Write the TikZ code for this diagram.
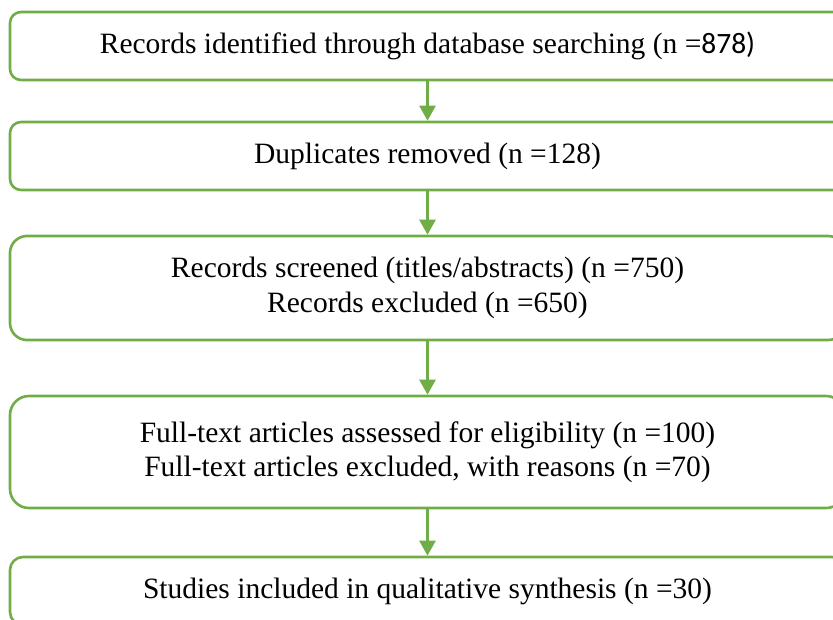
\documentclass[tikz,border=0pt]{standalone}
\usepackage{fontspec}
\setmainfont{Liberation Serif}
\newfontfamily\numfont{Carlito}
\usetikzlibrary{arrows.meta}
\definecolor{boxgreen}{HTML}{70AD47}
\begin{document}
\begin{tikzpicture}[x=1pt,y=-1pt,
  stage/.style={draw=boxgreen, line width=2.6pt, minimum width=835pt,
    inner sep=0pt, align=center, font=\fontsize{29.5}{34.5}\selectfont},
  flow/.style={draw=boxgreen, line width=2.6pt,
    -{Triangle[width=16pt,length=15pt]}}]
\useasboundingbox (0,0) rectangle (833,619);
\clip (0,0) rectangle (833,619);
% flow stages
\node[stage, rounded corners=11pt, minimum height=68pt] (ident) at (427.5,46)
  {Records identified through database searching (n =\numfont 878)};
\node[stage, rounded corners=11pt, minimum height=68pt] (dup) at (427.5,156)
  {Duplicates removed (n =128)};
\node[stage, rounded corners=17pt, minimum height=104pt] (screen) at (427.5,288)
  {Records screened (titles/abstracts) (n =750)\\Records excluded (n =650)};
\node[stage, rounded corners=19pt, minimum height=112pt] (full) at (427.5,452)
  {Full-text articles assessed for eligibility (n =100)\\Full-text articles excluded, with reasons (n =70)};
\node[stage, rounded corners=13pt, minimum height=68pt] (incl) at (427.5,591)
  {Studies included in qualitative synthesis (n =30)};
% connectors
\draw[flow] (ident.south) -- (dup.north);
\draw[flow] (dup.south) -- (screen.north);
\draw[flow] (screen.south) -- (full.north);
\draw[flow] (full.south) -- (incl.north);
\end{tikzpicture}
\end{document}
